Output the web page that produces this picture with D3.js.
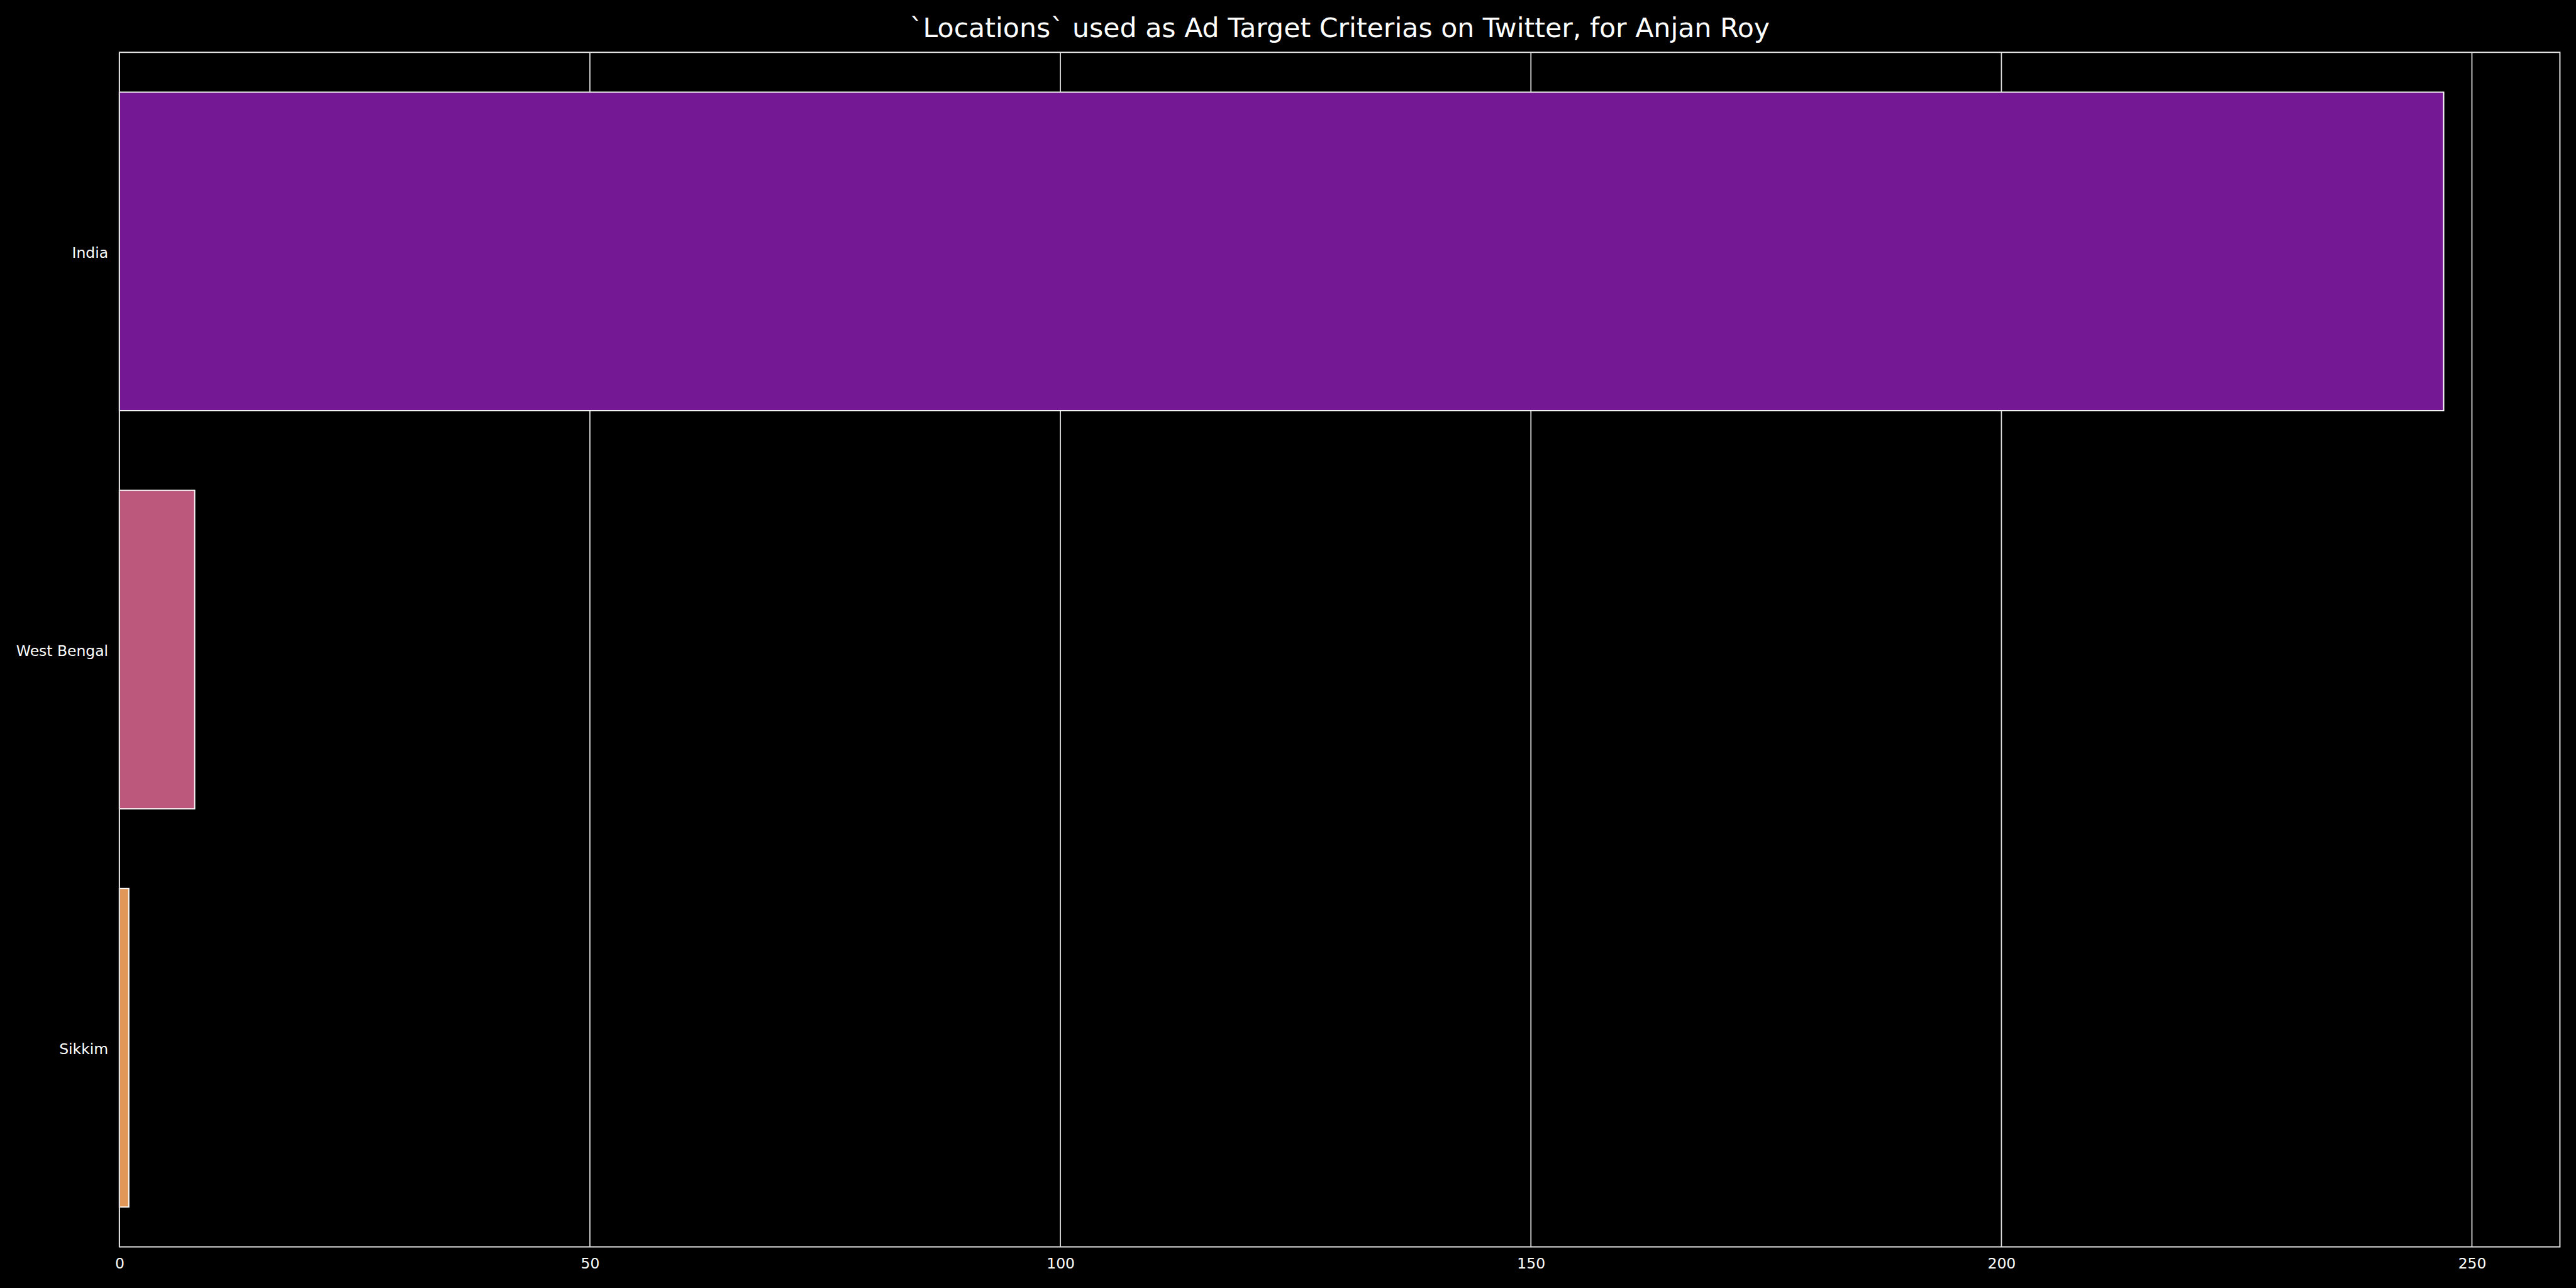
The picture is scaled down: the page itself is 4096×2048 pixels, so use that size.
<!DOCTYPE html>
<html>
<head>
<meta charset="utf-8">
<script src="https://cdn.jsdelivr.net/npm/d3@7"></script>
<style>
  html, body { margin: 0; padding: 0; background: #000; }
  svg { display: block; }
</style>
</head>
<body>
<script>
const categories = ["India", "West Bengal", "Sikkim"];
const values = [247, 8, 1];
const colors = ["#741893", "#bb587c", "#e19757"];
const xTicks = [0, 50, 100, 150, 200, 250];
const titleText = "`Locations` used as Ad Target Criterias on Twitter, for Anjan Roy";

const W = 4096, H = 2048;
const s = 4096 / 5760;
const margin = { left: 267 * s, right: 5724 * s, top: 117 * s, bottom: 2788 * s };

const svg = d3.select("body").append("svg")
  .attr("width", W).attr("height", H)
  .style("background", "#000");

svg.append("rect").attr("width", W).attr("height", H).attr("fill", "#000");

const xMax = d3.max(values) * 1.05;
const x = d3.scaleLinear().domain([0, xMax]).range([margin.left, margin.right]);
const y = d3.scaleBand().domain(categories).range([margin.top, margin.bottom])
  .paddingInner(0.2).paddingOuter(0.1);

const font = "'DejaVu Sans', sans-serif";
const gridColor = "#d8d8d8";

// grid lines
svg.append("g").selectAll("line").data(xTicks).join("line")
  .attr("x1", d => x(d)).attr("x2", d => x(d))
  .attr("y1", margin.top).attr("y2", margin.bottom)
  .attr("stroke", gridColor).attr("stroke-width", 1.8);

// bars
svg.append("g").selectAll("rect").data(categories).join("rect")
  .attr("x", x(0))
  .attr("y", d => y(d))
  .attr("width", (d, i) => x(values[i]) - x(0))
  .attr("height", y.bandwidth())
  .attr("fill", (d, i) => colors[i])
  .attr("stroke", "#ffffff")
  .attr("stroke-width", 1.9);

// spines
svg.append("rect")
  .attr("x", margin.left).attr("y", margin.top)
  .attr("width", margin.right - margin.left)
  .attr("height", margin.bottom - margin.top)
  .attr("fill", "none").attr("stroke", "#e0e0e0").attr("stroke-width", 2);

// x axis labels
const xAxis = d3.axisBottom(x).tickValues(xTicks).tickSize(0).tickPadding(0).tickFormat(d3.format("d"));
const gx = svg.append("g").attr("transform", `translate(0,${margin.bottom})`).call(xAxis);
gx.select(".domain").remove();
gx.selectAll("text")
  .attr("y", 2837 * s - margin.bottom)
  .attr("dy", null)
  .attr("fill", "#ffffff")
  .style("font-family", font)
  .style("font-size", (33 * s) + "px");

// y axis labels
const yAxis = d3.axisLeft(y).tickSize(0).tickPadding(0);
const gy = svg.append("g").attr("transform", `translate(${margin.left},0)`).call(yAxis);
gy.select(".domain").remove();
gy.selectAll("text")
  .attr("x", 242 * s - margin.left)
  .attr("dy", "0.42em")
  .attr("fill", "#ffffff")
  .style("font-family", font)
  .style("font-size", (33 * s) + "px");

// title
svg.append("text")
  .attr("x", (margin.left + margin.right) / 2)
  .attr("y", 83 * s)
  .attr("text-anchor", "middle")
  .attr("fill", "#ffffff")
  .style("font-family", font)
  .style("font-size", (60 * s) + "px")
  .text(titleText);
</script>
</body>
</html>
